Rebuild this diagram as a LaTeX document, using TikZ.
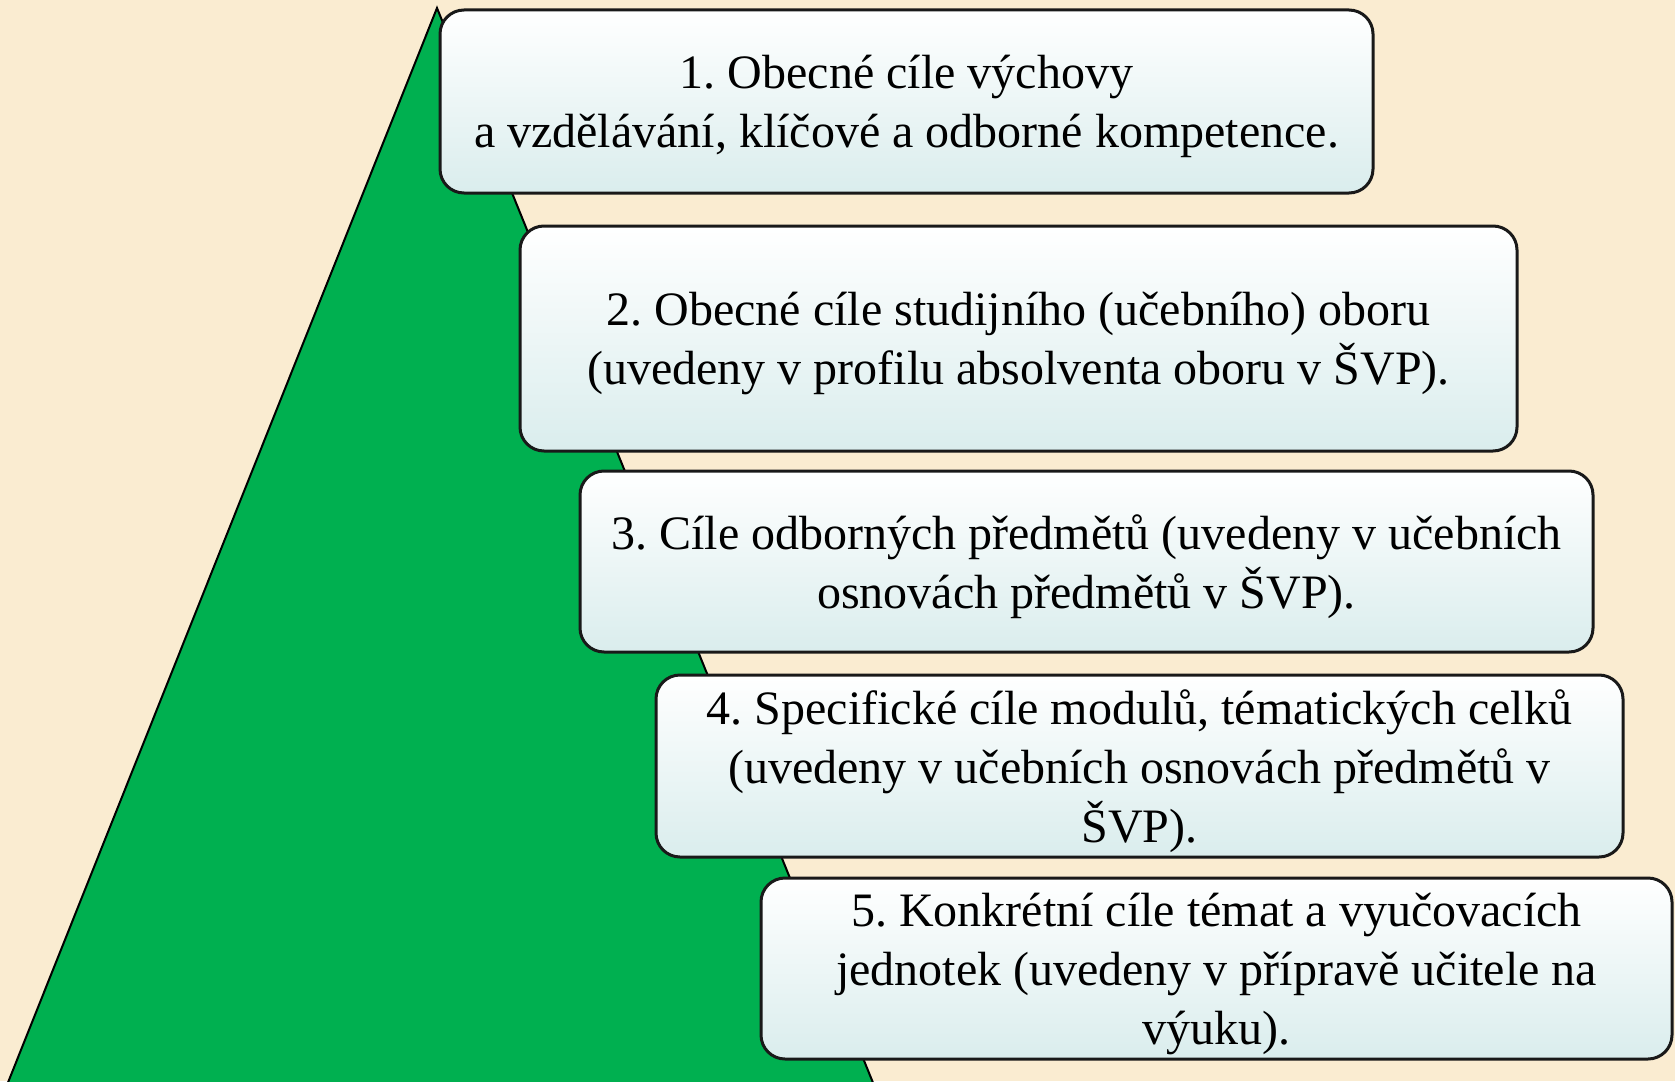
\documentclass[tikz,border=0pt]{standalone}
\usepackage{fontspec}
\setmainfont{Liberation Serif}
\frenchspacing
\definecolor{paper}{RGB}{250,236,209}
\definecolor{pyramid}{RGB}{0,176,80}
\definecolor{boxbottom}{RGB}{218,237,237}
\tikzset{
    goalbox/.style={draw=black!90, line width=1.5pt, rounded corners=12pt,
        top color=white, bottom color=boxbottom, align=center, inner sep=0pt,
        font=\fontsize{24}{29.5}\selectfont, text depth=-2.5pt}
}
\begin{document}
\begin{tikzpicture}[x=0.5pt, y=-0.5pt]
            \useasboundingbox (0,0) rectangle (1675,1081);
            \fill[paper] (0,0) rectangle (1675,1081);
            % pyramid behind the boxes
            \draw[fill=pyramid, line width=1pt] (437,8) -- (1,1100) -- (880,1100) -- cycle;
            \node[goalbox, minimum width=466.5pt, minimum height=91.5pt] (goal1) at (906.5,101.5) {
                1. Obecné cíle výchovy\\
                a vzdělávání, klíčové a odborné kompetence.
            };
            \node[goalbox, minimum width=498.5pt, minimum height=112.5pt] (goal2) at (1018.5,338.5) {
                2. Obecné cíle studijního (učebního) oboru\\
                (uvedeny v profilu absolventa oboru v ŠVP).
            };
            \node[goalbox, minimum width=506.5pt, minimum height=90.5pt] (goal3) at (1086.5,561.5) {
                3. Cíle odborných předmětů (uvedeny v učebních\\
                osnovách předmětů v ŠVP).
            };
            \node[goalbox, minimum width=483.5pt, minimum height=91pt] (goal4) at (1139.5,766) {
                4. Specifické cíle modulů, tématických celků\\
                (uvedeny v učebních osnovách předmětů v\\
                ŠVP).
            };
            \node[goalbox, minimum width=455.5pt, minimum height=90.5pt] (goal5) at (1216.5,968.5) {
                5. Konkrétní cíle témat a vyučovacích\\
                jednotek (uvedeny v přípravě učitele na\\
                výuku).
            };
        \end{tikzpicture}
\end{document}
